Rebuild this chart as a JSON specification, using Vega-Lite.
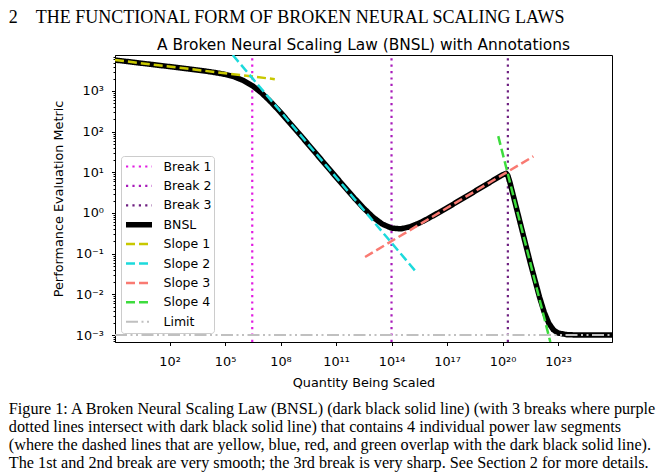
{
  "$schema": "https://vega.github.io/schema/vega-lite/v6.json",
  "padding": {"left": 8, "top": 8, "right": 0, "bottom": 0},
  "background": "white",
  "config": {
    "font": "DejaVu Sans",
    "view": {"stroke": "#000000", "strokeWidth": 1},
    "axis": {"grid": false, "domainColor": "#000000", "tickColor": "#000000", "labelColor": "#000000", "titleColor": "#000000", "labelFont": "DejaVu Sans", "titleFont": "DejaVu Sans", "labelFontSize": 12.8, "titleFontSize": 12.8, "titleFontWeight": "normal", "domainWidth": 1},
    "concat": {"spacing": 0}
  },
  "datasets": {
    "lines": [
      {"series": "Break 1", "x": 2950000, "y": 0.000673},
      {"series": "Break 1", "x": 2950000, "y": 7674},
      {"series": "Break 2", "x": 1e14, "y": 0.000673},
      {"series": "Break 2", "x": 1e14, "y": 7674},
      {"series": "Break 3", "x": 1.95e20, "y": 0.000673},
      {"series": "Break 3", "x": 1.95e20, "y": 7674},
      {"series": "BNSL", "x": 0.1122, "y": 5768},
      {"series": "BNSL", "x": 1, "y": 5117},
      {"series": "BNSL", "x": 10, "y": 4513},
      {"series": "BNSL", "x": 100, "y": 3980},
      {"series": "BNSL", "x": 1000, "y": 3503},
      {"series": "BNSL", "x": 10000, "y": 3057},
      {"series": "BNSL", "x": 31623, "y": 2822},
      {"series": "BNSL", "x": 100000, "y": 2559},
      {"series": "BNSL", "x": 316228, "y": 2228},
      {"series": "BNSL", "x": 1000000, "y": 1809},
      {"series": "BNSL", "x": 3162278, "y": 1327},
      {"series": "BNSL", "x": 10000000, "y": 872.5},
      {"series": "BNSL", "x": 31622777, "y": 524.2},
      {"series": "BNSL", "x": 100000000, "y": 298.1},
      {"series": "BNSL", "x": 1e9, "y": 89.7},
      {"series": "BNSL", "x": 1e10, "y": 26.2},
      {"series": "BNSL", "x": 1e11, "y": 7.661},
      {"series": "BNSL", "x": 1e12, "y": 2.302},
      {"series": "BNSL", "x": 3.162e12, "y": 1.309},
      {"series": "BNSL", "x": 1e13, "y": 0.7914},
      {"series": "BNSL", "x": 3.162e13, "y": 0.5341},
      {"series": "BNSL", "x": 1e14, "y": 0.4253},
      {"series": "BNSL", "x": 3.162e14, "y": 0.4078},
      {"series": "BNSL", "x": 1e15, "y": 0.4567},
      {"series": "BNSL", "x": 3.162e15, "y": 0.5652},
      {"series": "BNSL", "x": 1e16, "y": 0.7375},
      {"series": "BNSL", "x": 1e17, "y": 1.339},
      {"series": "BNSL", "x": 1e18, "y": 2.487},
      {"series": "BNSL", "x": 1e19, "y": 4.646},
      {"series": "BNSL", "x": 1e20, "y": 8.688},
      {"series": "BNSL", "x": 1.585e20, "y": 9.41},
      {"series": "BNSL", "x": 1.95e20, "y": 8.3},
      {"series": "BNSL", "x": 2.512e20, "y": 5.68},
      {"series": "BNSL", "x": 3.981e20, "y": 2.503},
      {"series": "BNSL", "x": 1e21, "y": 0.4784},
      {"series": "BNSL", "x": 3.162e21, "y": 0.0604},
      {"series": "BNSL", "x": 1e22, "y": 0.0086},
      {"series": "BNSL", "x": 1.778e22, "y": 0.003701},
      {"series": "BNSL", "x": 3.162e22, "y": 0.001959},
      {"series": "BNSL", "x": 5.623e22, "y": 0.001341},
      {"series": "BNSL", "x": 1e23, "y": 0.001121},
      {"series": "BNSL", "x": 3.162e23, "y": 0.001015},
      {"series": "BNSL", "x": 1e24, "y": 0.001002},
      {"series": "BNSL", "x": 1e25, "y": 0.001},
      {"series": "BNSL", "x": 8.318e25, "y": 0.001},
      {"series": "Slope 1", "x": 0.1122, "y": 5768},
      {"series": "Slope 1", "x": 48980000, "y": 1950},
      {"series": "Slope 2", "x": 260000, "y": 7674},
      {"series": "Slope 2", "x": 2.138e15, "y": 0.0356},
      {"series": "Slope 3", "x": 3.715e12, "y": 0.08279},
      {"series": "Slope 3", "x": 4.677e21, "y": 24.74},
      {"series": "Slope 4", "x": 5.888e19, "y": 77.8},
      {"series": "Slope 4", "x": 3.855e22, "y": 0.000673},
      {"series": "Limit", "x": 0.1122, "y": 0.001},
      {"series": "Limit", "x": 8.318e25, "y": 0.001}
    ]
  },
  "title": {
    "text": [
      "Figure 1: A Broken Neural Scaling Law (BNSL) (dark black solid line) (with 3 breaks where purple",
      "dotted lines intersect with dark black solid line) that contains 4 individual power law segments",
      "(where the dashed lines that are yellow, blue, red, and green overlap with the dark black solid line).",
      "The 1st and 2nd break are very smooth; the 3rd break is very sharp. See Section 2 for more details."
    ],
    "orient": "bottom", "anchor": "start", "frame": "bounds",
    "font": "Liberation Serif", "fontSize": 16.2, "lineHeight": 18.3, "fontWeight": "normal", "color": "#000000", "offset": 11
  },
  "vconcat": [
    {
      "title": {
        "text": "2\u00a0\u00a0\u00a0\u00a0THE FUNCTIONAL FORM OF BROKEN NEURAL SCALING LAWS",
        "font": "Liberation Serif", "fontSize": 18, "fontWeight": "normal", "color": "#000000",
        "anchor": "start", "frame": "bounds", "dx": -43, "offset": 11
      },
      "vconcat": [
        {
          "title": {"text": "A Broken Neural Scaling Law (BNSL) with Annotations", "font": "DejaVu Sans", "fontSize": 15.4, "fontWeight": "normal", "color": "#000000", "anchor": "middle", "offset": -3},
          "width": 497,
          "height": 287,
          "data": {"name": "lines"},
          "encoding": {
            "x": {
              "field": "x", "type": "quantitative",
              "scale": {"type": "log", "domain": [0.1122, 8.318e25], "nice": false},
              "axis": {
                "title": "Quantity Being Scaled",
                "values": [1e2, 1e5, 1e8, 1e11, 1e14, 1e17, 1e20, 1e23],
                "labelExpr": "'10' + ['⁰','¹','²','³','⁴','⁵','⁶','⁷','⁸','⁹','¹⁰','¹¹','¹²','¹³','¹⁴','¹⁵','¹⁶','¹⁷','¹⁸','¹⁹','²⁰','²¹','²²','²³','²⁴','²⁵'][round(log(datum.value)/LN10)]",
                "tickSize": 3.5, "labelPadding": 10, "titlePadding": 8, "labelOverlap": false, "labelFlush": false
              }
            },
            "y": {
              "field": "y", "type": "quantitative",
              "scale": {"type": "log", "domain": [0.000673, 7674], "nice": false},
              "axis": {
                "title": "Performance Evaluation Metric",
                "values": [0.0007, 0.0008, 0.0009, 0.001, 0.002, 0.003, 0.004, 0.005, 0.006, 0.007, 0.008, 0.009, 0.01, 0.02, 0.03, 0.04, 0.05, 0.06, 0.07, 0.08, 0.09, 0.1, 0.2, 0.3, 0.4, 0.5, 0.6, 0.7, 0.8, 0.9, 1, 2, 3, 4, 5, 6, 7, 8, 9, 10, 20, 30, 40, 50, 60, 70, 80, 90, 100, 200, 300, 400, 500, 600, 700, 800, 900, 1000, 2000, 3000, 4000, 5000, 6000, 7000],
                "labelExpr": "abs(log(datum.value)/LN10 - round(log(datum.value)/LN10)) > 0.01 ? '' : '10' + ['⁻³','⁻²','⁻¹','⁰','¹','²','³'][round(log(datum.value)/LN10) + 3]",
                "tickSize": {"condition": {"test": "abs(log(datum.value)/LN10 - round(log(datum.value)/LN10)) > 0.01", "value": 2}, "value": 3.5},
                "labelPadding": 8, "titlePadding": 10, "labelOverlap": false, "labelFlush": false
              }
            },
            "color": {
              "field": "series", "type": "nominal",
              "scale": {"domain": ["Break 1", "Break 2", "Break 3", "BNSL", "Slope 1", "Slope 2", "Slope 3", "Slope 4", "Limit"],
                        "range": ["#e21ce2", "#a81cba", "#6e1f80", "#000000", "#c8c800", "#1cdadc", "#f97a72", "#3ddc3d", "#c0c0c0"]},
              "legend": {"title": null, "orient": "none", "legendX": 6, "legendY": 101, "symbolType": "stroke", "symbolSize": 676, "clipHeight": 17, "rowPadding": 2.4, "padding": 2, "labelFontSize": 12.5, "labelFont": "DejaVu Sans", "labelColor": "#000000", "labelOffset": 8.5, "fillColor": "white", "strokeColor": "#cccccc", "cornerRadius": 3}
            },
            "strokeDash": {
              "field": "series", "type": "nominal",
              "scale": {"type": "ordinal", "domain": ["Break 1", "Break 2", "Break 3", "BNSL", "Slope 1", "Slope 2", "Slope 3", "Slope 4", "Limit"],
                        "range": [[2.2, 4.2], [2.2, 4.2], [2.2, 4.2], [1, 0], [9, 4], [9, 4], [9, 4], [9, 4], [12, 3.5, 2, 3.5, 2, 3.5]]},
              "legend": {"title": null, "orient": "none", "legendX": 6, "legendY": 101, "symbolType": "stroke", "symbolSize": 676, "clipHeight": 17, "rowPadding": 2.4, "padding": 2, "labelFontSize": 12.5, "labelFont": "DejaVu Sans", "labelColor": "#000000", "labelOffset": 8.5, "fillColor": "white", "strokeColor": "#cccccc", "cornerRadius": 3}
            },
            "strokeWidth": {
              "field": "series", "type": "nominal",
              "scale": {"type": "ordinal", "domain": ["Break 1", "Break 2", "Break 3", "BNSL", "Slope 1", "Slope 2", "Slope 3", "Slope 4", "Limit"],
                        "range": [2.2, 2.2, 2.2, 5.5, 2.5, 2.5, 2.5, 2.5, 2]},
              "legend": {"title": null, "orient": "none", "legendX": 6, "legendY": 101, "symbolType": "stroke", "symbolSize": 676, "clipHeight": 17, "rowPadding": 2.4, "padding": 2, "labelFontSize": 12.5, "labelFont": "DejaVu Sans", "labelColor": "#000000", "labelOffset": 8.5, "fillColor": "white", "strokeColor": "#cccccc", "cornerRadius": 3}
            }
          },
          "layer": [
            {"transform": [{"filter": "indexof(datum.series, 'Break') == 0"}], "mark": {"type": "line", "clip": true}},
            {"transform": [{"filter": "datum.series == 'BNSL'"}], "mark": {"type": "line", "clip": true, "strokeJoin": "round"}},
            {"transform": [{"filter": "indexof(datum.series, 'Slope') == 0"}], "mark": {"type": "line", "clip": true}},
            {"transform": [{"filter": "datum.series == 'Limit'"}], "mark": {"type": "line", "clip": true}}
          ]
        }
      ]
    }
  ]
}
